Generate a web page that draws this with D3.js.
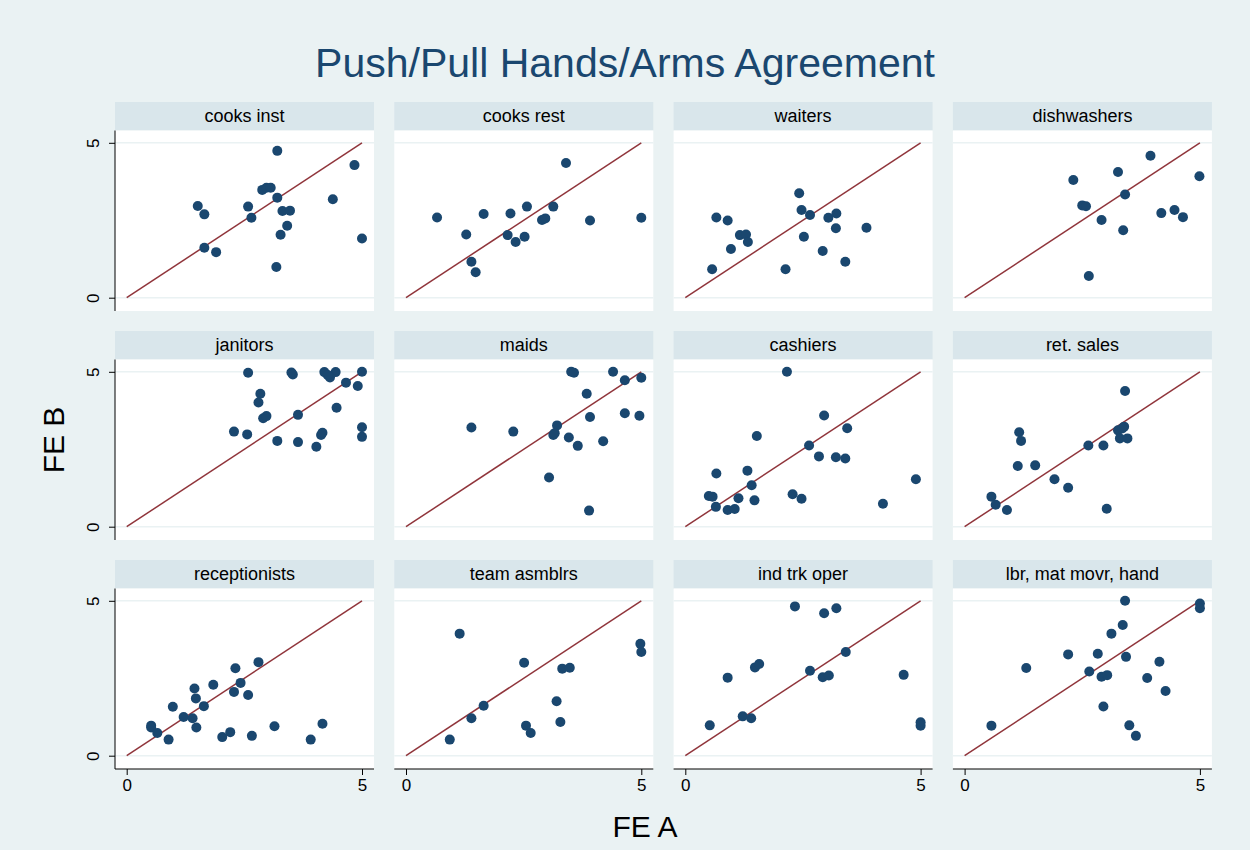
<!DOCTYPE html>
<html>
<head>
<meta charset="utf-8">
<script src="https://cdn.jsdelivr.net/npm/d3@7"></script>
<style>
    body { margin: 0; background: #ffffff; }
    text { font-family: "Liberation Sans", Arial, sans-serif; }
</style>
</head>
<body>
<script>
// occupations, one panel each, read left to right, top to bottom
var occupations = ["cooks inst", "cooks rest", "waiters", "dishwashers",
    "janitors", "maids", "cashiers", "ret. sales",
    "receptionists", "team asmblrs", "ind trk oper", "lbr, mat movr, hand"];

// FE A (x) per panel
var feA = [
    [3.20, 4.84, 2.88, 2.97, 3.06, 3.20, 4.38, 1.51, 2.58, 1.65, 2.65, 3.31,
     3.47, 3.41, 3.27, 1.65, 1.90, 5.00, 3.18],
    [3.40, 0.66, 1.65, 2.22, 2.57, 3.13, 2.89, 2.96, 3.91, 5.00, 1.28, 2.16,
     2.52, 2.33, 1.39, 1.48],
    [2.42, 2.47, 2.65, 0.66, 0.90, 3.04, 3.21, 3.20, 3.85, 1.16, 1.29, 1.33,
     2.52, 0.97, 2.92, 3.40, 0.57, 2.13],
    [3.95, 3.26, 2.31, 4.99, 3.41, 2.50, 2.58, 2.91, 4.18, 4.46, 4.64, 3.37,
     2.64],
    [2.58, 3.50, 3.53, 4.20, 4.44, 4.32, 4.27, 5.00, 4.66, 4.91, 2.84, 2.80,
     4.46, 2.90, 2.97, 3.64, 5.00, 5.00, 2.28, 2.56, 4.13, 4.16, 3.20, 3.64,
     4.03],
    [3.51, 3.57, 4.40, 4.65, 5.00, 3.84, 4.65, 4.96, 3.91, 1.39, 2.28, 3.21,
     3.13, 3.16, 3.46, 3.65, 4.19, 3.04, 3.89],
    [2.16, 2.95, 3.44, 1.52, 2.63, 2.84, 3.20, 3.40, 0.66, 1.32, 1.41, 4.90,
     0.50, 0.58, 1.13, 2.28, 2.47, 1.47, 0.65, 0.90, 1.05, 4.20],
    [3.41, 3.39, 3.26, 3.35, 3.30, 3.46, 2.63, 2.95, 1.16, 1.20, 1.13, 1.50,
     1.91, 2.20, 3.02, 0.57, 0.66, 0.90],
    [2.80, 2.31, 2.42, 1.84, 1.44, 2.28, 2.58, 1.47, 0.98, 1.64, 1.21, 1.40,
     0.52, 0.52, 0.65, 1.48, 0.89, 2.03, 2.20, 2.66, 3.14, 3.91, 4.16],
    [1.14, 4.98, 5.00, 2.51, 3.32, 3.48, 3.20, 1.65, 1.39, 2.55, 2.65, 3.28,
     0.93],
    [2.33, 2.95, 3.21, 3.41, 1.48, 1.57, 2.65, 2.92, 3.05, 4.64, 0.90, 1.22,
     1.40, 0.52, 5.00, 5.00],
    [3.41, 5.00, 5.00, 3.36, 3.12, 2.20, 2.83, 3.43, 4.14, 1.31, 2.65, 2.91,
     3.03, 3.88, 4.27, 2.95, 0.57, 3.50, 3.64]
];

// FE B (y) per panel
var feB = [
    [4.74, 4.28, 3.48, 3.55, 3.55, 3.23, 3.18, 2.96, 2.94, 2.69, 2.58, 2.80,
     2.81, 2.32, 2.03, 1.61, 1.47, 1.91, 0.99],
    [4.35, 2.59, 2.70, 2.72, 2.94, 2.94, 2.51, 2.56, 2.49, 2.58, 2.04, 2.02,
     1.97, 1.80, 1.16, 0.82],
    [3.37, 2.83, 2.67, 2.59, 2.49, 2.58, 2.72, 2.24, 2.26, 2.02, 2.04, 1.80,
     1.97, 1.57, 1.51, 1.16, 0.92, 0.92],
    [4.58, 4.06, 3.80, 3.92, 3.33, 2.98, 2.95, 2.51, 2.73, 2.83, 2.60, 2.18,
     0.70],
    [4.97, 4.98, 4.91, 4.99, 4.99, 4.82, 4.90, 5.00, 4.65, 4.54, 4.29, 4.01,
     3.84, 3.50, 3.57, 3.61, 3.21, 2.90, 3.07, 2.98, 2.96, 3.03, 2.77, 2.73,
     2.58],
    [5.00, 4.97, 5.00, 4.73, 4.81, 4.29, 3.66, 3.58, 3.54, 3.20, 3.07, 3.27,
     2.96, 3.02, 2.88, 2.61, 2.76, 1.59, 0.52],
    [5.00, 3.59, 3.18, 2.93, 2.62, 2.27, 2.24, 2.20, 1.72, 1.81, 1.34, 1.53,
     0.99, 0.97, 0.92, 1.05, 0.90, 0.85, 0.64, 0.54, 0.57, 0.74],
    [4.38, 3.23, 3.11, 3.17, 2.85, 2.85, 2.62, 2.62, 3.05, 2.77, 1.96, 1.98,
     1.53, 1.26, 0.58, 0.97, 0.71, 0.54],
    [3.02, 2.82, 2.35, 2.29, 2.17, 2.06, 1.96, 1.85, 1.58, 1.60, 1.25, 1.21,
     0.97, 0.91, 0.73, 0.91, 0.52, 0.60, 0.76, 0.64, 0.95, 0.52, 1.03],
    [3.94, 3.61, 3.35, 3.00, 2.81, 2.84, 1.76, 1.61, 1.21, 0.97, 0.73, 1.09,
     0.52],
    [4.82, 4.60, 4.76, 3.35, 2.85, 2.96, 2.74, 2.53, 2.59, 2.61, 2.52, 1.27,
     1.21, 0.98, 1.08, 0.97],
    [5.00, 4.91, 4.76, 4.22, 3.94, 3.27, 3.29, 3.19, 3.03, 2.83, 2.72, 2.55,
     2.60, 2.51, 2.09, 1.59, 0.97, 0.98, 0.64]
];

var tickValues = [0, 5];

var width = 1250, height = 850;
var cols = 4;
var colLeft = 115, colStep = 279.3, panelW = 259;
var rowTop = 102, rowStep = 229, stripH = 28.5, plotH = 180.5;

var svg = d3.select("body").append("svg")
    .attr("width", width)
    .attr("height", height);

// graph region
svg.append("rect")
    .attr("x", 0).attr("y", 0)
    .attr("width", width).attr("height", height)
    .attr("fill", "#eaf2f3");

svg.append("text")
    .attr("x", 625).attr("y", 77)
    .attr("text-anchor", "middle")
    .attr("font-size", 41)
    .attr("fill", "#1a476f")
    .text("Push/Pull Hands/Arms Agreement");

occupations.forEach(function(name, i) {
    var c = i % cols, r = Math.floor(i / cols);
    var left = colLeft + c * colStep;
    var top = rowTop + r * rowStep;
    var plotTop = top + stripH, plotBottom = plotTop + plotH;

    var x = d3.scaleLinear().domain([0, 5])
        .range([left + 11.7, left + panelW - 12]);
    var y = d3.scaleLinear().domain([0, 5])
        .range([plotBottom - 13.3, plotTop + 12.3]);

    var g = svg.append("g");

    // strip with the name
    g.append("rect")
        .attr("x", left).attr("y", top)
        .attr("width", panelW).attr("height", stripH)
        .attr("fill", "#d9e6eb");
    g.append("text")
        .attr("x", left + panelW / 2).attr("y", top + stripH / 2 + 6)
        .attr("text-anchor", "middle")
        .attr("font-size", 18)
        .attr("fill", "#000")
        .text(name);

    // plot region
    g.append("rect")
        .attr("x", left).attr("y", plotTop)
        .attr("width", panelW).attr("height", plotH)
        .attr("fill", "#ffffff");

    g.selectAll("line.grid")
        .data(tickValues)
        .enter().append("line")
        .attr("class", "grid")
        .attr("x1", left).attr("x2", left + panelW)
        .attr("y1", function(d) { return y(d); })
        .attr("y2", function(d) { return y(d); })
        .attr("stroke", "#eaf2f3")
        .attr("stroke-width", 1.5);

    // 45 degree line
    g.append("line")
        .attr("x1", x(0)).attr("y1", y(0))
        .attr("x2", x(5)).attr("y2", y(5))
        .attr("stroke", "#90353b")
        .attr("stroke-width", 1.5);

    var pts = feA[i].map(function(v, k) { return [v, feB[i][k]]; });
    g.selectAll("circle")
        .data(pts)
        .enter().append("circle")
        .attr("cx", function(d) { return x(d[0]); })
        .attr("cy", function(d) { return y(d[1]); })
        .attr("r", 5)
        .attr("fill", "#1a476f");

    // y axis on first column
    if (c === 0) {
        g.append("line")
            .attr("x1", left).attr("x2", left)
            .attr("y1", plotTop).attr("y2", plotBottom)
            .attr("stroke", "#000").attr("stroke-width", 1);
        var ya = g.append("g")
            .attr("transform", "translate(" + left + ",0)")
            .call(d3.axisLeft(y).tickValues(tickValues).tickSize(6)
                .tickFormat(d3.format("d")));
        ya.select(".domain").remove();
        ya.selectAll("line").attr("stroke", "#000");
        ya.selectAll("text")
            .attr("font-size", 17)
            .attr("fill", "#000")
            .attr("text-anchor", "middle")
            .attr("x", 0).attr("dy", 0)
            .attr("transform", "translate(-16,0) rotate(-90)");
    }
    // x axis on last row
    if (r === 2) {
        g.append("line")
            .attr("x1", left).attr("x2", left + panelW)
            .attr("y1", plotBottom).attr("y2", plotBottom)
            .attr("stroke", "#000").attr("stroke-width", 1);
        var xa = g.append("g")
            .attr("transform", "translate(0," + plotBottom + ")")
            .call(d3.axisBottom(x).tickValues(tickValues).tickSize(6)
                .tickFormat(d3.format("d")));
        xa.select(".domain").remove();
        xa.selectAll("line").attr("stroke", "#000");
        xa.selectAll("text")
            .attr("font-size", 17)
            .attr("fill", "#000")
            .attr("y", 10);
    }
});

svg.append("text")
    .attr("transform", "translate(64,440) rotate(-90)")
    .attr("text-anchor", "middle")
    .attr("font-size", 30)
    .attr("fill", "#000")
    .text("FE B");

svg.append("text")
    .attr("x", 645).attr("y", 837)
    .attr("text-anchor", "middle")
    .attr("font-size", 30)
    .attr("fill", "#000")
    .text("FE A");
</script>
</body>
</html>
